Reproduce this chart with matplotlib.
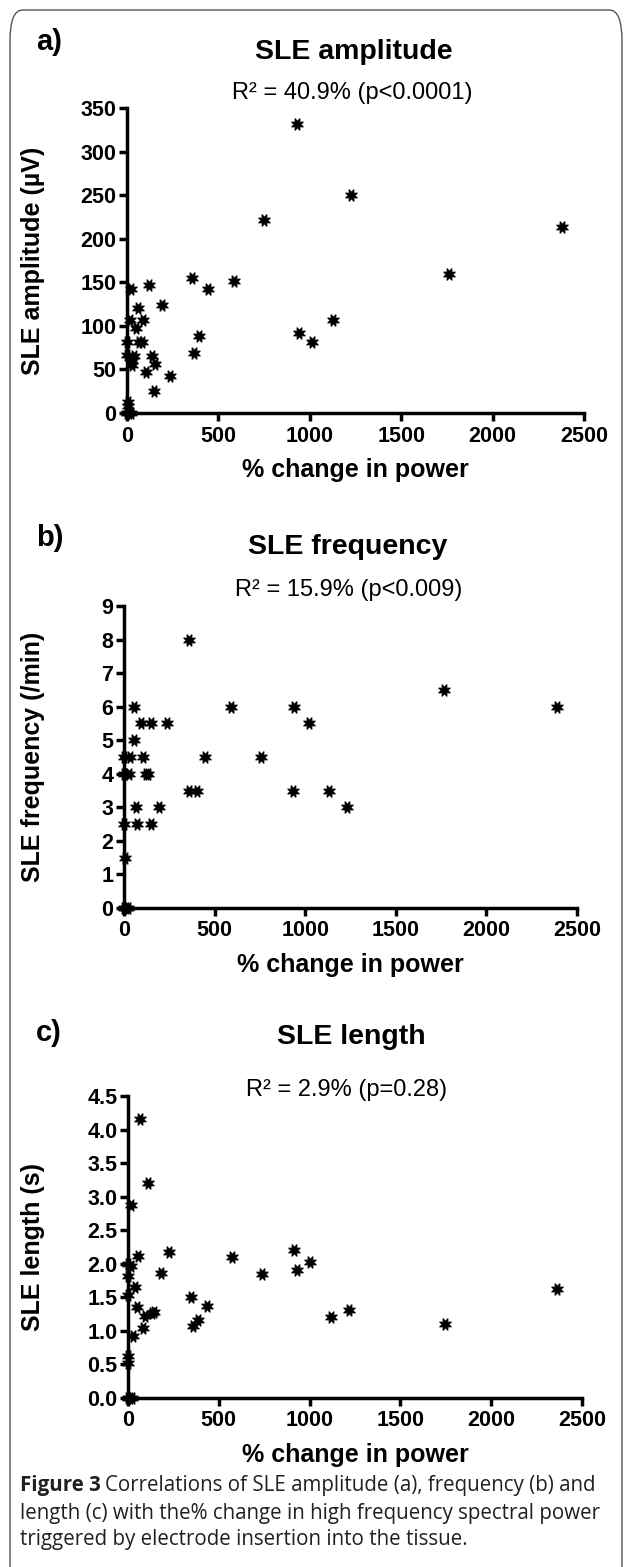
import matplotlib
matplotlib.use("Agg")
import matplotlib.pyplot as plt
from matplotlib.patches import FancyBboxPatch

# panel a: SLE amplitude (uV) vs % change in power
amp_x = [928, 749, 587, 354, 443, 120, 22, 190, 58, 89, 16, 49, 65, 80, 0, 394,
         367, 0, 40, 30, 25, 135, 153, 102, 235, 146, 3, 5, 0, 10, 20,
         1225, 2381, 1761, 1129, 941, 1014]
amp_y = [332, 221, 152, 155, 142, 147, 142, 124, 121, 107, 107, 97, 82, 82, 81, 88,
         69, 67, 65, 60, 55, 65, 56, 47, 43, 25, 13, 8, 0, 0, 0,
         250, 214, 160, 107, 92, 81]

# panel b: SLE frequency (/min)
freq_x = [358, 57, 95, 147, 235, 588, 938, 1020, 53, 2, 33, 103, 445, 754, 2, 30,
          121, 132, 358, 401, 934, 68, 195, 2, 73, 149, 5, 1765, 2387, 1134, 1232,
          0, 10, 20]
freq_y = [8, 6, 5.5, 5.5, 5.5, 6, 6, 5.5, 5, 4.5, 4.5, 4.5, 4.5, 4.5, 4, 4,
          4, 4, 3.5, 3.5, 3.5, 3, 3, 2.5, 2.5, 2.5, 1.5, 6.5, 6, 3.5, 3,
          0, 0, 0]

# panel c: SLE length (s)
len_x = [68, 108, 17, 226, 53, 0, 17, 574, 914, 929, 1002, 740, 180, 0, 40, 0,
         345, 433, 48, 94, 130, 143, 360, 387, 81, 28, 0, 0, 0, 10, 20,
         1118, 1217, 1746, 2364]
len_y = [4.15, 3.20, 2.88, 2.18, 2.12, 2.0, 1.96, 2.10, 2.20, 1.90, 2.03, 1.85, 1.87, 1.82, 1.66, 1.53,
         1.50, 1.37, 1.35, 1.22, 1.26, 1.28, 1.08, 1.16, 1.05, 0.93, 0.62, 0.52, 0, 0, 0,
         1.20, 1.31, 1.11, 1.63]

x_ticks = [0, 500, 1000, 1500, 2000, 2500]

W, H = 625, 1567
plt.rcParams["font.family"] = ["Liberation Sans", "DejaVu Sans"]

fig = plt.figure(figsize=(W / 100, H / 100), dpi=100)


def px_text(x, y, s, **kw):
    return fig.text(x / W, 1 - y / H, s, **kw)


def setup_panel(rect, xs, ys, ylim, yticks, yticklabels, ylabel, ylab_x):
    ax = fig.add_axes(rect)
    ax.scatter(xs, ys, s=80, marker=(8, 1, 22.5), color="black",
               linewidths=0.8, clip_on=False, zorder=3)
    ax.set_xlim(0, 2500)
    ax.set_ylim(*ylim)
    ax.set_xticks(x_ticks)
    ax.set_yticks(yticks)
    ax.set_yticklabels(yticklabels)
    for side in ("top", "right"):
        ax.spines[side].set_visible(False)
    for side in ("left", "bottom"):
        ax.spines[side].set_linewidth(2.5)
    ax.tick_params(axis="both", width=2.5, length=6, labelsize=15.5)
    ax.tick_params(axis="x", pad=3)
    ax.tick_params(axis="y", pad=1.5)
    for lab in ax.get_xticklabels() + ax.get_yticklabels():
        lab.set_fontweight("bold")
    ax.set_xlabel("% change in power", fontsize=18, fontweight="bold", labelpad=8)
    ax.set_ylabel(ylabel, fontsize=18, fontweight="bold")
    ax.yaxis.set_label_coords(ylab_x, 0.5)
    return ax


setup_panel([127 / W, 1 - 413 / H, 457 / W, 305 / H], amp_x, amp_y, (0, 350),
            [0, 50, 100, 150, 200, 250, 300, 350],
            ["0", "50", "100", "150", "200", "250", "300", "350"],
            "SLE amplitude (µV)", -0.179)
setup_panel([124 / W, 1 - 908 / H, 453 / W, 302 / H], freq_x, freq_y, (0, 9),
            list(range(10)), [str(i) for i in range(10)],
            "SLE frequency (/min)", -0.174)
setup_panel([128 / W, 1 - 1398 / H, 454 / W, 302 / H], len_x, len_y, (0, 4.5),
            [0, 0.5, 1, 1.5, 2, 2.5, 3, 3.5, 4, 4.5],
            ["0.0", "0.5", "1.0", "1.5", "2.0", "2.5", "3.0", "3.5", "4.0", "4.5"],
            "SLE length (s)", -0.183)

# panel letters, titles and R^2 lines
panels = [("a)", 42, "SLE amplitude", 354, 52, "R² = 40.9% (p<0.0001)", 352, 93),
          ("b)", 538, "SLE frequency", 348, 547, "R² = 15.9% (p<0.009)", 349, 590),
          ("c)", 1033, "SLE length", 351, 1037, "R² = 2.9% (p=0.28)", 347, 1090)]
for letter, ly, title, tx, ty, r2, rx, ry in panels:
    px_text(36, ly, letter, fontsize=21, fontweight="bold", va="center", ha="left")
    px_text(tx, ty, title, fontsize=20.5, fontweight="bold", va="center", ha="center")
    px_text(rx, ry, r2, fontsize=17, va="center", ha="center")

# caption
cap_kw = dict(fontsize=14.8, family=["Open Sans", "DejaVu Sans"], color="#231f20",
              va="center", ha="left")
bold = px_text(20, 1486, "Figure 3", fontweight="bold", **cap_kw)
fig.canvas.draw()
bb = bold.get_window_extent()
px_text(bb.x1 + 4, 1486, "Correlations of SLE amplitude (a), frequency (b) and", **cap_kw)
px_text(20, 1513, "length (c) with the% change in high frequency spectral power", **cap_kw)
px_text(20, 1540, "triggered by electrode insertion into the tissue.", **cap_kw)

# rounded frame around the figure
frame = FancyBboxPatch((10 / W, -0.05), 612 / W, 1 - 10 / H + 0.05,
                       boxstyle="round,pad=0,rounding_size=0.02",
                       transform=fig.transFigure, fill=False,
                       edgecolor="#555555", linewidth=1.0)
fig.patches.append(frame)

fig.savefig("out.png", dpi=100)
